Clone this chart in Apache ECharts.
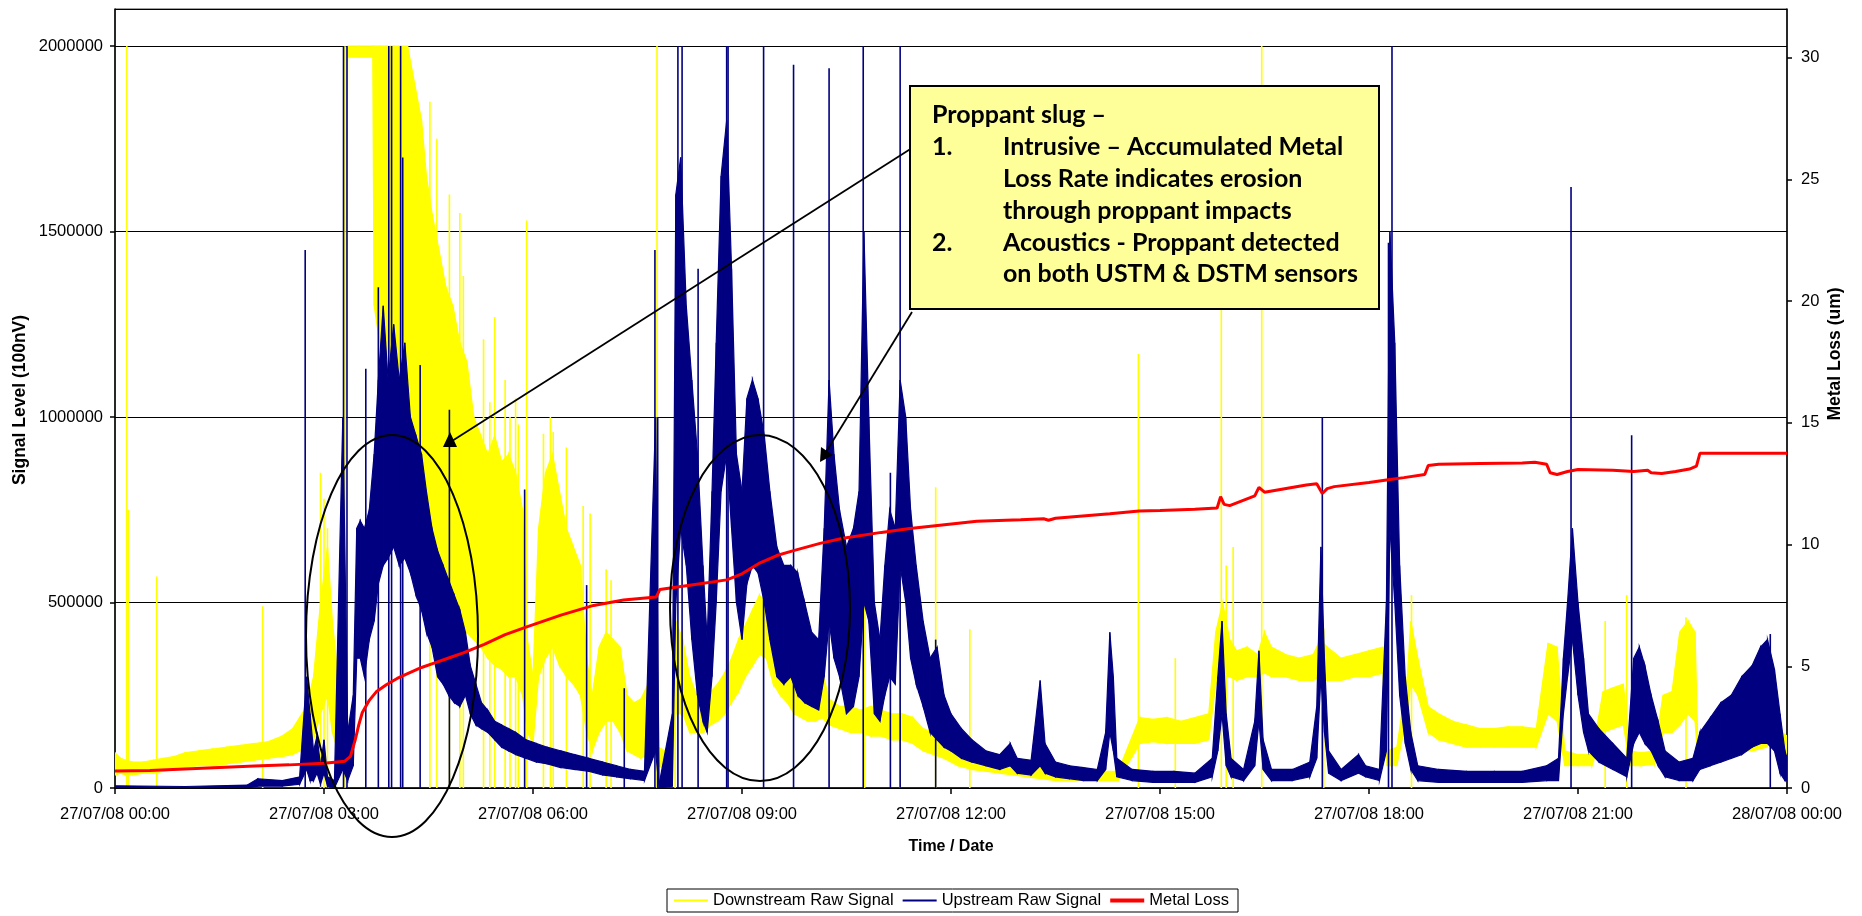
<!DOCTYPE html>
<html>
<head>
<meta charset="utf-8">
<script src="https://cdn.jsdelivr.net/npm/echarts@6/dist/echarts.min.js"></script>
<style>
html,body{margin:0;padding:0;background:#fff;}
#chart{width:1862px;height:916px;}
</style>
</head>
<body>
<div id="chart"></div>
<script>
// ---------- DATA ----------
const xTickLabels = ['27/07/08 00:00','27/07/08 03:00','27/07/08 06:00','27/07/08 09:00','27/07/08 12:00','27/07/08 15:00','27/07/08 18:00','27/07/08 21:00','28/07/08 00:00'];
const seriesNames = ['Downstream Raw Signal','Upstream Raw Signal','Metal Loss'];

// Downstream raw signal: [hour, band low, band high]
const downstreamBand = [
[0.00,35000,95000],[0.08,40000,80000],[0.15,35000,75000],[0.25,35000,70000],[0.40,40000,70000],[0.55,40000,75000],
[0.70,45000,80000],[0.85,50000,85000],[1.00,55000,95000],[1.20,60000,100000],[1.40,60000,105000],[1.60,65000,110000],
[1.80,70000,115000],[2.00,75000,120000],[2.20,80000,125000],[2.40,85000,140000],[2.55,90000,160000],[2.65,100000,190000],
[2.75,120000,220000],[2.85,130000,300000],[2.95,200000,500000],[3.05,250000,650000],[3.12,150000,450000],[3.20,100000,300000],
[3.28,100000,250000],[3.34,1970000,2000000],[3.50,1970000,2000000],[3.70,1970000,2000000],[3.72,1300000,2000000],[3.80,1200000,2000000],
[3.90,900000,2000000],[4.00,800000,2000000],[4.10,800000,2000000],[4.20,850000,2000000],[4.30,900000,1900000],[4.40,850000,1800000],
[4.47,700000,1650000],[4.55,600000,1550000],[4.65,550000,1450000],[4.75,500000,1350000],[4.85,450000,1300000],[4.95,450000,1200000],
[5.05,420000,1150000],[5.15,400000,1000000],[5.25,380000,950000],[5.35,350000,900000],[5.45,330000,950000],[5.55,320000,880000],
[5.65,300000,900000],[5.75,300000,850000],[5.85,250000,750000],[5.92,150000,400000],[6.00,120000,300000],[6.08,300000,700000],
[6.18,350000,850000],[6.28,380000,900000],[6.38,330000,800000],[6.48,300000,700000],[6.58,280000,650000],[6.68,250000,600000],
[6.77,150000,350000],[6.85,100000,250000],[6.95,150000,380000],[7.05,180000,420000],[7.15,180000,400000],[7.25,150000,380000],
[7.35,100000,250000],[7.45,90000,230000],[7.55,80000,240000],[7.65,90000,280000],[7.73,120000,320000],[7.80,60000,110000],
[7.90,50000,100000],[8.00,70000,130000],[8.05,200000,450000],[8.15,200000,400000],[8.25,150000,300000],[8.35,150000,250000],
[8.45,150000,240000],[8.55,170000,260000],[8.65,180000,280000],[8.75,200000,310000],[8.85,230000,350000],[8.95,260000,400000],
[9.05,300000,440000],[9.15,330000,480000],[9.25,360000,520000],[9.35,350000,500000],[9.45,280000,420000],[9.55,250000,380000],
[9.65,230000,350000],[9.75,200000,320000],[9.85,190000,300000],[9.95,180000,300000],[10.05,180000,320000],[10.15,190000,320000],
[10.25,170000,240000],[10.40,160000,220000],[10.55,150000,220000],[10.70,150000,210000],[10.85,140000,220000],[11.00,140000,210000],
[11.15,130000,200000],[11.30,130000,200000],[11.45,120000,190000],[11.60,100000,160000],[11.75,90000,150000],[11.90,80000,130000],
[12.10,60000,110000],[12.30,50000,100000],[12.50,45000,90000],[12.70,40000,80000],[12.90,35000,70000],[13.10,30000,65000],
[13.30,25000,60000],[13.50,20000,50000],[13.80,20000,50000],[14.10,20000,45000],[14.40,20000,45000],[14.71,120000,190000],
[14.90,125000,185000],[15.10,120000,190000],[15.30,120000,180000],[15.50,120000,190000],[15.70,130000,200000],[15.80,280000,420000],
[15.90,300000,500000],[16.00,300000,400000],[16.10,290000,370000],[16.25,300000,380000],[16.40,300000,360000],[16.50,310000,420000],
[16.60,300000,380000],[16.80,300000,360000],[17.00,290000,350000],[17.20,290000,360000],[17.30,300000,400000],[17.40,290000,380000],
[17.60,290000,350000],[17.80,300000,360000],[18.00,300000,370000],[18.20,310000,380000],[18.26,60000,100000],[18.40,60000,110000],
[18.55,200000,300000],[18.60,280000,450000],[18.70,250000,350000],[18.85,150000,220000],[19.00,130000,200000],[19.20,120000,180000],
[19.40,110000,170000],[19.60,110000,160000],[19.80,110000,160000],[20.00,110000,165000],[20.20,110000,165000],[20.40,110000,160000],
[20.57,200000,390000],[20.70,180000,380000],[20.81,60000,100000],[21.00,60000,90000],[21.20,60000,90000],[21.36,150000,260000],
[21.50,160000,270000],[21.65,170000,280000],[21.75,60000,100000],[21.90,60000,95000],[22.10,65000,100000],[22.22,150000,250000],
[22.35,150000,260000],[22.46,170000,420000],[22.58,200000,450000],[22.68,180000,420000],[22.72,80000,120000],[22.90,80000,120000],
[23.10,90000,130000],[23.30,100000,140000],[23.50,100000,150000],[23.70,110000,170000],[23.85,130000,190000],[23.93,100000,150000],
[24.00,90000,140000]
];
// Downstream isolated spikes: [hour, peak]
const downstreamSpikes = [
[0.17,2000000],[0.19,750000],[0.60,570000],[2.12,490000],[2.95,850000],[3.00,780000],[3.05,700000],[3.30,2000000],
[4.52,1850000],[4.62,1750000],[4.80,1600000],[4.95,1550000],[5.00,1380000],[5.29,1210000],[5.38,1040000],[5.45,1270000],
[5.60,1100000],[5.67,1000000],[5.75,1050000],[5.79,980000],[5.91,1530000],[6.15,955000],[6.25,1000000],[6.29,960000],
[6.48,918000],[6.72,760000],[6.82,740000],[7.05,590000],[7.12,560000],[7.78,2000000],[8.04,1200000],[10.76,1030000],
[11.27,730000],[11.78,811000],[12.27,428000],[14.69,1170000],[15.22,350000],[15.88,1600000],[15.95,600000],[16.05,650000],
[16.46,2000000],[17.35,430000],[18.61,520000],[21.39,450000],[21.70,520000],[22.55,460000]
];

// Upstream raw signal: [hour, band low, band high]
const upstreamBand = [
[0.00,0,6000],[1.00,0,4000],[1.90,0,8000],[2.05,5000,25000],[2.40,5000,20000],[2.65,10000,30000],[2.75,50000,300000],
[2.80,20000,200000],[2.85,20000,100000],[2.90,40000,140000],[2.95,10000,60000],[3.00,40000,130000],[3.05,5000,30000],
[3.15,0,20000],[3.27,50000,1000000],[3.34,20000,150000],[3.42,60000,250000],[3.47,350000,700000],[3.52,350000,720000],
[3.58,300000,700000],[3.65,400000,750000],[3.72,450000,900000],[3.78,550000,1100000],[3.85,600000,1300000],[3.92,620000,1100000],
[4.00,650000,1250000],[4.08,600000,1100000],[4.16,620000,1200000],[4.24,580000,1000000],[4.32,520000,950000],[4.40,480000,900000],
[4.47,420000,800000],[4.55,380000,700000],[4.63,300000,640000],[4.71,280000,600000],[4.79,250000,560000],[4.87,230000,520000],
[4.95,220000,480000],[5.03,250000,420000],[5.10,200000,330000],[5.18,170000,280000],[5.26,160000,230000],[5.35,150000,210000],
[5.45,130000,180000],[5.55,110000,170000],[5.65,100000,160000],[5.75,90000,150000],[5.90,80000,130000],[6.05,70000,120000],
[6.20,65000,110000],[6.40,55000,100000],[6.60,50000,90000],[6.80,45000,80000],[7.00,35000,70000],[7.20,30000,60000],
[7.40,25000,50000],[7.60,20000,45000],[7.76,100000,1000000],[7.81,0,10000],[8.00,5000,200000],[8.05,500000,1600000],
[8.12,700000,1700000],[8.20,600000,1300000],[8.28,400000,1100000],[8.36,250000,900000],[8.44,180000,600000],[8.50,150000,400000],
[8.57,300000,800000],[8.63,500000,1200000],[8.70,800000,1650000],[8.78,900000,1800000],[8.85,700000,1400000],[8.92,500000,900000],
[9.00,400000,800000],[9.07,550000,1050000],[9.15,600000,1100000],[9.23,580000,1050000],[9.32,500000,950000],[9.40,400000,800000],
[9.50,300000,650000],[9.60,280000,600000],[9.70,300000,600000],[9.80,250000,580000],[9.90,230000,500000],[10.00,220000,420000],
[10.10,210000,400000],[10.18,300000,700000],[10.25,450000,1100000],[10.32,350000,900000],[10.40,300000,750000],[10.50,200000,650000],
[10.60,220000,700000],[10.68,300000,800000],[10.75,500000,1500000],[10.82,450000,1000000],[10.90,200000,500000],[10.98,180000,400000],
[11.05,250000,600000],[11.12,300000,750000],[11.20,280000,700000],[11.27,600000,1100000],[11.35,500000,1000000],[11.42,350000,750000],
[11.50,280000,600000],[11.60,220000,450000],[11.70,150000,350000],[11.80,130000,380000],[11.90,110000,250000],[12.00,100000,200000],
[12.15,80000,160000],[12.30,70000,130000],[12.50,60000,100000],[12.70,50000,90000],[12.85,60000,120000],[12.95,40000,80000],
[13.15,35000,75000],[13.28,60000,290000],[13.35,40000,120000],[13.50,30000,70000],[13.70,25000,60000],[13.90,20000,55000],
[14.10,20000,50000],[14.22,50000,150000],[14.28,150000,420000],[14.33,100000,300000],[14.38,30000,80000],[14.60,20000,50000],
[14.90,15000,45000],[15.20,15000,45000],[15.50,15000,40000],[15.75,30000,80000],[15.83,100000,300000],[15.89,200000,450000],
[15.95,60000,200000],[16.02,30000,80000],[16.20,20000,50000],[16.36,60000,180000],[16.42,180000,370000],[16.48,50000,130000],
[16.60,20000,50000],[16.90,20000,50000],[17.15,30000,70000],[17.25,80000,220000],[17.31,300000,650000],[17.36,150000,350000],
[17.42,40000,100000],[17.60,20000,50000],[17.85,40000,90000],[17.95,30000,60000],[18.15,20000,50000],[18.25,100000,500000],
[18.30,700000,1500000],[18.37,500000,1200000],[18.44,250000,600000],[18.52,120000,300000],[18.60,50000,150000],[18.70,20000,60000],
[19.00,15000,50000],[19.40,15000,45000],[19.80,15000,45000],[20.20,15000,45000],[20.55,20000,60000],[20.72,20000,80000],
[20.79,200000,350000],[20.85,300000,500000],[20.92,400000,700000],[21.00,250000,500000],[21.08,150000,350000],[21.15,100000,200000],
[21.30,70000,160000],[21.50,50000,120000],[21.70,30000,80000],[21.80,120000,350000],[21.88,150000,380000],[21.96,120000,330000],
[22.05,100000,250000],[22.15,60000,180000],[22.25,30000,100000],[22.45,20000,70000],[22.65,20000,80000],[22.75,50000,150000],
[22.90,60000,190000],[23.05,70000,230000],[23.20,80000,250000],[23.35,90000,300000],[23.50,110000,330000],[23.62,120000,380000],
[23.72,120000,400000],[23.82,100000,320000],[23.90,40000,200000],[23.97,20000,100000],[24.00,20000,80000]
];
// Upstream isolated spikes: [hour, peak]
const upstreamSpikes = [
[2.73,1450000],[3.28,2000000],[3.33,2000000],[3.60,1130000],[3.78,1350000],[3.93,2000000],[3.97,2000000],[4.10,2000000],
[4.13,1700000],[4.38,1140000],[4.80,1020000],[5.88,805000],[6.77,547000],[7.31,269000],[7.75,1450000],[7.79,1000000],
[8.08,2000000],[8.14,2000000],[8.37,1400000],[8.78,2000000],[8.80,2000000],[9.31,2000000],[9.74,1950000],[10.25,1940000],
[10.74,2000000],[11.13,850000],[11.27,2000000],[11.78,400000],[17.33,1000000],[18.28,1470000],[18.33,2000000],[20.90,1620000],
[21.77,951000],[23.76,415000]
];

// Metal loss (um): [hour, value]
const metalLoss = [
[0.00,0.70],[0.50,0.72],[1.00,0.78],[1.50,0.84],[2.00,0.90],[2.50,0.95],[3.00,1.02],[3.30,1.10],[3.38,1.30],[3.45,2.00],
[3.50,2.60],[3.55,3.10],[3.65,3.60],[3.75,3.95],[3.90,4.25],[4.05,4.50],[4.20,4.70],[4.40,4.95],[4.60,5.15],[4.80,5.35],
[5.00,5.55],[5.30,5.90],[5.60,6.30],[5.91,6.62],[6.40,7.10],[6.87,7.50],[7.30,7.72],[7.77,7.85],[7.82,8.15],[8.30,8.35],
[8.78,8.55],[9.00,8.80],[9.26,9.25],[9.50,9.55],[9.74,9.75],[10.12,10.05],[10.45,10.26],[11.00,10.50],[11.41,10.66],[12.37,10.96],
[13.00,11.02],[13.33,11.06],[13.40,11.00],[13.50,11.08],[14.28,11.27],[14.70,11.38],[15.00,11.40],[15.50,11.45],[15.82,11.50],
[15.87,11.97],[15.92,11.65],[16.00,11.60],[16.36,12.00],[16.42,12.35],[16.50,12.15],[17.10,12.45],[17.25,12.50],[17.33,12.10],
[17.40,12.30],[17.50,12.38],[18.00,12.55],[18.25,12.65],[18.50,12.75],[18.80,12.88],[18.85,13.25],[19.00,13.30],[19.60,13.33],
[20.20,13.35],[20.38,13.38],[20.55,13.30],[20.60,12.95],[20.70,12.88],[20.85,13.00],[21.00,13.08],[21.50,13.05],[21.80,13.00],
[22.00,13.05],[22.05,12.95],[22.20,12.92],[22.40,13.00],[22.60,13.10],[22.70,13.22],[22.75,13.75],[24.00,13.75]
];

// ---------- CHART ----------
const chart = echarts.init(document.getElementById('chart'), null, {renderer:'canvas'});
const FONT = '"Liberation Sans", Arial, sans-serif';
const YELLOW = '#FFFF00', NAVY = '#000080', RED = '#FF0000';

function bandRenderer(arr, color) {
  return function (params, api) {
    const i = params.dataIndex;
    if (i >= arr.length - 1) return null;
    const a = arr[i], b = arr[i + 1];
    const p1 = api.coord([a[0], a[2]]), p2 = api.coord([b[0], b[2]]);
    const p3 = api.coord([b[0], b[1]]), p4 = api.coord([a[0], a[1]]);
    return {
      type: 'polygon',
      shape: { points: [p1, p2, p3, p4] },
      style: { fill: color, stroke: color, lineWidth: 1.2 }
    };
  };
}
function spikeRenderer(color) {
  return function (params, api) {
    const top = api.coord([api.value(0), api.value(1)]);
    const bot = api.coord([api.value(0), 0]);
    return {
      type: 'line',
      shape: { x1: top[0], y1: top[1], x2: bot[0], y2: bot[1] },
      style: { stroke: color, lineWidth: 1.6 }
    };
  };
}

const textStyleBox = { font: 'bold 25px Lato, "Open Sans", sans-serif', fill: '#000', verticalAlign: 'middle', align: 'left' };

const option = {
  backgroundColor: '#fff',
  animation: false,
  grid: { left: 115, right: 75, top: 9, bottom: 128, show: true, borderColor: '#404040', borderWidth: 1, backgroundColor: 'transparent' },
  xAxis: {
    type: 'value', min: 0, max: 24, interval: 3,
    axisLine: { show: true, onZero: false, lineStyle: { color: '#000', width: 1.5 } },
    axisTick: { show: true, length: 6, lineStyle: { color: '#000', width: 1.5 } },
    splitLine: { show: false },
    axisLabel: { margin: 18, fontFamily: FONT, fontSize: 16.5, color: '#000', formatter: v => xTickLabels[Math.round(v / 3)] }
  },
  yAxis: [
    {
      type: 'value', min: 0, max: 2100000, interval: 500000,
      axisLine: { show: true, lineStyle: { color: '#000', width: 1.5 } },
      axisTick: { show: true, length: 5, lineStyle: { color: '#000', width: 1.5 } },
      splitLine: { show: true, lineStyle: { color: '#000', width: 1 } },
      axisLabel: { margin: 12, fontFamily: FONT, fontSize: 16.5, color: '#000', showMaxLabel: false, formatter: v => String(v) }
    },
    {
      type: 'value', min: 0, max: 32, interval: 5, position: 'right',
      axisLine: { show: true, lineStyle: { color: '#000', width: 1.5 } },
      axisTick: { show: true, length: 5, lineStyle: { color: '#000', width: 1.5 } },
      splitLine: { show: false },
      axisLabel: { margin: 14, fontFamily: FONT, fontSize: 16.5, color: '#000', showMaxLabel: false }
    }
  ],
  legend: {
    left: 667, top: 889,
    padding: [3, 9, 3, 7],
    itemGap: 9, itemWidth: 34, itemHeight: 14,
    borderColor: '#000', borderWidth: 1, backgroundColor: '#fff',
    textStyle: { fontFamily: FONT, fontSize: 16.5, color: '#000' },
    data: [
      { name: seriesNames[0], icon: 'path://M0,0L34,0L34,2L0,2Z', itemStyle: { color: YELLOW } },
      { name: seriesNames[1], icon: 'path://M0,0L34,0L34,2L0,2Z', itemStyle: { color: NAVY } },
      { name: seriesNames[2], icon: 'path://M0,0L34,0L34,4L0,4Z', itemStyle: { color: RED } }
    ]
  },
  series: [
    { name: seriesNames[0], type: 'custom', renderItem: bandRenderer(downstreamBand, YELLOW), data: downstreamBand, itemStyle: { color: YELLOW }, z: 2, clip: true, encode: { x: 0, y: [1, 2] } },
    { name: seriesNames[0], type: 'custom', renderItem: spikeRenderer(YELLOW), data: downstreamSpikes, itemStyle: { color: YELLOW }, z: 2, clip: true, encode: { x: 0, y: 1 } },
    { name: seriesNames[1], type: 'custom', renderItem: bandRenderer(upstreamBand, NAVY), data: upstreamBand, itemStyle: { color: NAVY }, z: 3, clip: true, encode: { x: 0, y: [1, 2] } },
    { name: seriesNames[1], type: 'custom', renderItem: spikeRenderer(NAVY), data: upstreamSpikes, itemStyle: { color: NAVY }, z: 3, clip: true, encode: { x: 0, y: 1 } },
    { name: seriesNames[2], type: 'line', yAxisIndex: 1, data: metalLoss, showSymbol: false, symbol: 'none', z: 4,
      lineStyle: { color: RED, width: 3 }, itemStyle: { color: RED } }
  ],
  graphic: [
    // axis titles
    { type: 'text', x: 20, y: 400, rotation: Math.PI / 2, z: 100,
      style: { text: 'Signal Level (100nV)', font: 'bold 17.5px "Liberation Sans", Arial, sans-serif', fill: '#000', align: 'center', verticalAlign: 'middle' } },
    { type: 'text', x: 1835, y: 354, rotation: Math.PI / 2, z: 100,
      style: { text: 'Metal Loss (um)', font: 'bold 17.5px "Liberation Sans", Arial, sans-serif', fill: '#000', align: 'center', verticalAlign: 'middle' } },
    { type: 'text', x: 951, y: 847, z: 100,
      style: { text: 'Time / Date', font: 'bold 16px "Liberation Sans", Arial, sans-serif', fill: '#000', align: 'center', verticalAlign: 'middle' } },
    // ellipses
    { type: 'ellipse', z: 100, shape: { cx: 392, cy: 636, rx: 86, ry: 201 }, style: { fill: null, stroke: '#000', lineWidth: 2 } },
    { type: 'ellipse', z: 100, shape: { cx: 760, cy: 608, rx: 90, ry: 173 }, style: { fill: null, stroke: '#000', lineWidth: 2 } },
    // arrows
    { type: 'line', z: 100, shape: { x1: 912, y1: 148, x2: 452, y2: 441 }, style: { stroke: '#000', lineWidth: 1.8 } },
    { type: 'polygon', z: 100, shape: { points: [[443, 447], [457, 447], [450, 432]] }, style: { fill: '#000' } },
    { type: 'line', z: 100, shape: { x1: 912, y1: 312, x2: 826, y2: 452 }, style: { stroke: '#000', lineWidth: 1.8 } },
    { type: 'polygon', z: 100, shape: { points: [[820, 462], [821, 447], [833, 455]] }, style: { fill: '#000' } },
    // annotation box
    { type: 'rect', z: 110, shape: { x: 910, y: 86, width: 469, height: 223 }, style: { fill: '#FFFF99', stroke: '#000', lineWidth: 2 } },
    { type: 'text', z: 111, x: 932, y: 115, style: Object.assign({ text: 'Proppant slug –' }, textStyleBox) },
    { type: 'text', z: 111, x: 932, y: 147, style: Object.assign({ text: '1.' }, textStyleBox) },
    { type: 'text', z: 111, x: 1003, y: 147, style: Object.assign({ text: 'Intrusive – Accumulated Metal' }, textStyleBox) },
    { type: 'text', z: 111, x: 1003, y: 179, style: Object.assign({ text: 'Loss Rate indicates erosion' }, textStyleBox) },
    { type: 'text', z: 111, x: 1003, y: 211, style: Object.assign({ text: 'through proppant impacts' }, textStyleBox) },
    { type: 'text', z: 111, x: 932, y: 243, style: Object.assign({ text: '2.' }, textStyleBox) },
    { type: 'text', z: 111, x: 1003, y: 243, style: Object.assign({ text: 'Acoustics - Proppant detected' }, textStyleBox) },
    { type: 'text', z: 111, x: 1003, y: 274, style: Object.assign({ text: 'on both USTM & DSTM sensors' }, textStyleBox) }
  ]
};
chart.setOption(option);
</script>
</body>
</html>
